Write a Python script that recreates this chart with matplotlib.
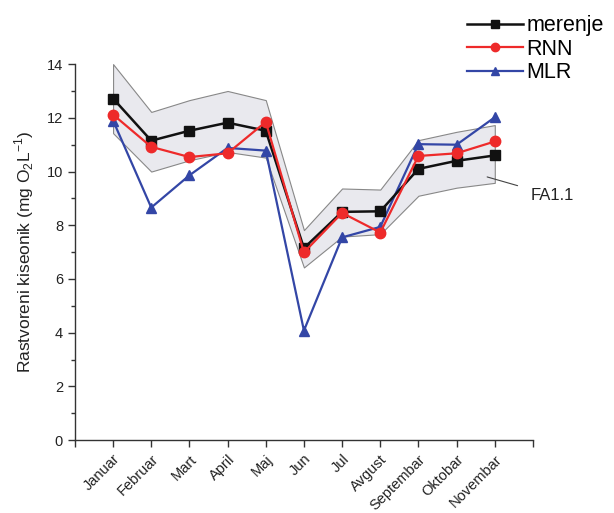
import numpy as np
import matplotlib.pyplot as plt

months = ["Januar", "Februar", "Mart", "April", "Maj", "Jun", "Jul",
          "Avgust", "Septembar", "Oktobar", "Novembar"]
merenje = [12.72, 11.15, 11.52, 11.82, 11.52, 7.15, 8.50, 8.52, 10.10, 10.40, 10.60]
rnn = [12.12, 10.92, 10.54, 10.68, 11.85, 6.99, 8.46, 7.73, 10.58, 10.68, 11.12]
mlr = [11.90, 8.66, 9.86, 10.88, 10.78, 4.08, 7.55, 7.94, 11.02, 11.00, 12.02]
band_top = [14.0, 12.22, 12.66, 13.0, 12.66, 7.82, 9.37, 9.33, 11.17, 11.48, 11.73]
band_bot = [11.43, 10.0, 10.42, 10.73, 10.52, 6.43, 7.58, 7.67, 9.10, 9.40, 9.58]

plt.rcParams["font.family"] = ["Liberation Sans", "DejaVu Sans"]
plt.rcParams["mathtext.fontset"] = "custom"
plt.rcParams["mathtext.rm"] = "Liberation Sans"

x = np.arange(1, len(months) + 1)

fig = plt.figure(figsize=(6.14, 5.13), dpi=100)
ax = fig.add_axes([0.122, 0.142, 0.746, 0.733])

ax.fill_between(x, band_bot, band_top, facecolor="#e9e9ee", edgecolor="#888888",
                linewidth=0.8, zorder=1)

l1, = ax.plot(x, merenje, "-s", color="#111111", lw=1.8, ms=6.5, zorder=3, label="merenje")
l2, = ax.plot(x, rnn, "-o", color="#ee2a2a", lw=1.6, ms=7.5, zorder=4, label="RNN")
l3, = ax.plot(x, mlr, "-^", color="#3346a6", lw=1.6, ms=7.5, zorder=2, label="MLR")

ax.set_xlim(0, 12)
ax.set_ylim(0, 14)
ax.set_xticks(np.arange(0, 13))
ax.set_xticklabels([""] + months + [""], rotation=45, ha="right",
                   rotation_mode="anchor", fontsize=10.5, color="#222222")
ax.set_yticks(np.arange(0, 15, 2))
ax.set_yticks(np.arange(1, 14, 2), minor=True)
ax.tick_params(axis="y", labelsize=10.5, colors="#222222")
ax.tick_params(direction="out", length=5, width=1, color="#333333")
ax.tick_params(which="minor", direction="out", length=3, width=1, color="#333333")
for s in ["top", "right"]:
    ax.spines[s].set_visible(False)
for s in ["left", "bottom"]:
    ax.spines[s].set_color("#333333")
    ax.spines[s].set_linewidth(1)

ax.set_ylabel("Rastvoreni kiseonik (mg O$_2$L$^{-1}$)", fontsize=12.5,
              color="#222222", labelpad=8)

ax.annotate("FA1.1", xy=(10.8, 9.8), xytext=(11.95, 9.1), fontsize=12,
            color="#222222", va="center", ha="left",
            arrowprops=dict(arrowstyle="-", color="#444444", lw=0.8,
                            shrinkA=8, shrinkB=0),
            annotation_clip=False)

fig.legend(handles=[l1, l2, l3], loc="upper right", bbox_to_anchor=(1.008, 1.0),
           frameon=False, fontsize=15.5, handlelength=2.6, handletextpad=0.15,
           labelspacing=0.12, markerscale=0.8, borderaxespad=0.3)

fig.savefig("out.png", dpi=100)
